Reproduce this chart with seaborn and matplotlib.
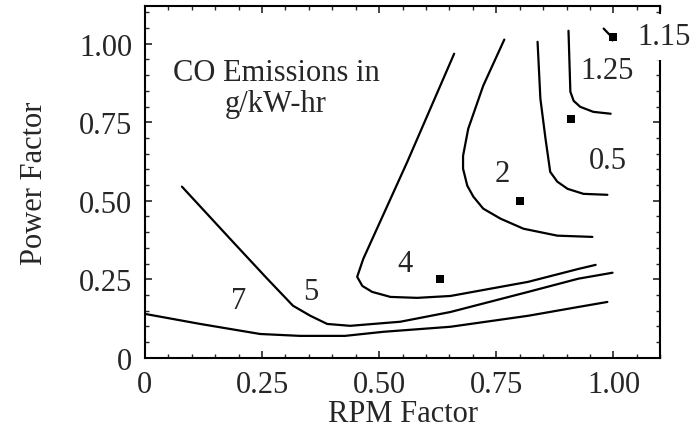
import numpy as np
import pandas as pd
import matplotlib.pyplot as plt
import seaborn as sns
from matplotlib.ticker import MultipleLocator

# contour lines (RPM factor, power factor)
c7_x = [0.0, 0.118, 0.246, 0.331, 0.427, 0.509, 0.652, 0.818, 0.925, 0.987]
c7_y = [0.140, 0.108, 0.076, 0.070, 0.070, 0.083, 0.099, 0.134, 0.162, 0.178]

c5_x = [0.079, 0.188, 0.261, 0.316, 0.353, 0.389, 0.438, 0.545, 0.652, 0.818, 0.925, 0.998]
c5_y = [0.545, 0.369, 0.252, 0.166, 0.134, 0.108, 0.102, 0.115, 0.146, 0.210, 0.252, 0.271]

c4_x = [0.660, 0.560, 0.466, 0.453, 0.464, 0.485, 0.524, 0.581, 0.652, 0.818, 0.925, 0.962]
c4_y = [0.968, 0.624, 0.315, 0.258, 0.229, 0.210, 0.194, 0.191, 0.197, 0.242, 0.283, 0.296]

c2_x = [0.767, 0.722, 0.690, 0.679, 0.679, 0.688, 0.701, 0.722, 0.759, 0.808, 0.880, 0.955]
c2_y = [1.013, 0.866, 0.729, 0.643, 0.602, 0.548, 0.513, 0.475, 0.443, 0.411, 0.389, 0.385]

c05_x = [0.838, 0.844, 0.855, 0.865, 0.880, 0.902, 0.936, 0.987]
c05_y = [1.006, 0.825, 0.697, 0.592, 0.561, 0.538, 0.522, 0.519]

c125_x = [0.904, 0.908, 0.915, 0.929, 0.957, 0.994]
c125_y = [1.041, 0.847, 0.818, 0.799, 0.783, 0.777]

c115_x = [0.979, 0.994, 0.998]
c115_y = [1.048, 1.025, 1.010]

# test points (squares)
pt_x = [0.63, 0.80, 0.91, 1.0]
pt_y = [0.25, 0.50, 0.76, 1.02]

# contour labels
lab_text = ["7", "5", "4", "2", "0.5", "1.25"]
lab_x = [0.199, 0.353, 0.556, 0.763, 0.987, 0.987]
lab_y = [0.182, 0.21, 0.30, 0.586, 0.627, 0.914]

tick_vals = [0, 0.25, 0.5, 0.75, 1.0]
tick_labels = ["0", "0.25", "0.50", "0.75", "1.00"]

sns.set_style("ticks")
plt.rcParams["font.family"] = ["Liberation Serif", "DejaVu Serif"]

fig = plt.figure(figsize=(6.9, 4.35), dpi=100)
ax = fig.add_axes([0.210, 0.175, 0.747, 0.809])

curves = [(c7_x, c7_y), (c5_x, c5_y), (c4_x, c4_y), (c2_x, c2_y),
          (c05_x, c05_y), (c125_x, c125_y), (c115_x, c115_y)]
for cx, cy in curves:
    sns.lineplot(x=cx, y=cy, sort=False, estimator=None, color="black",
                 linewidth=1.6, ax=ax)

sns.scatterplot(x=pt_x, y=pt_y, marker="s", color="black", s=40,
                edgecolor="black", linewidth=0, ax=ax, clip_on=False, zorder=3)

for t, lx, ly in zip(lab_text, lab_x, lab_y):
    ax.text(lx, ly, t, fontsize=22, ha="center", va="center")

ax.text(1.052, 1.022, "1.15", fontsize=22, ha="left", va="center", clip_on=False,
        bbox=dict(facecolor="white", edgecolor="none", pad=6), zorder=5)
ax.text(0.280, 0.859, "CO Emissions in\ng/kW-hr", fontsize=22, ha="center",
        va="center", multialignment="center", linespacing=1.05)

ax.set_xlim(0, 1.1)
ax.set_ylim(0, 1.12)
ax.set_xticks(tick_vals)
ax.set_xticklabels(tick_labels)
ax.set_yticks(tick_vals)
ax.set_yticklabels(tick_labels)
ax.xaxis.set_minor_locator(MultipleLocator(0.05))
ax.yaxis.set_minor_locator(MultipleLocator(0.05))
ax.tick_params(which="both", direction="in", top=True, right=True,
               labelsize=22, pad=9)
ax.tick_params(which="major", length=5, width=1.2)
ax.tick_params(which="minor", length=3, width=1.0)
for sp in ax.spines.values():
    sp.set_linewidth(1.5)
    sp.set_color("black")

ax.set_xlabel("RPM Factor", fontsize=22, labelpad=0)
ax.set_ylabel("Power Factor", fontsize=22, labelpad=22)

fig.savefig("out.png", dpi=100, facecolor="white")
